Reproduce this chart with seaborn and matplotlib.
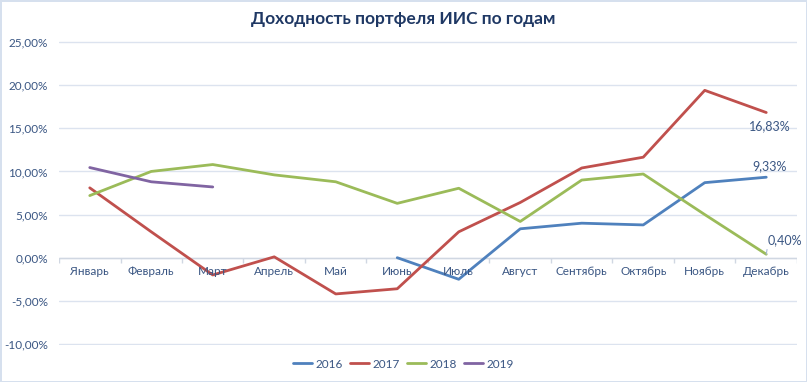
import numpy as np
import pandas as pd
import matplotlib
matplotlib.use('Agg')
import matplotlib.pyplot as plt
import seaborn as sns
from matplotlib.ticker import FuncFormatter

# Данные (доходность, %)
months = ['Январь', 'Февраль', 'Март', 'Апрель', 'Май', 'Июнь', 'Июль',
          'Август', 'Сентябрь', 'Октябрь', 'Ноябрь', 'Декабрь']
years = ['2016', '2017', '2018', '2019']
r2016 = [None, None, None, None, None, 0.0, -2.5, 3.35, 4.0, 3.8, 8.7, 9.33]
r2017 = [8.1, 3.0, -2.0, 0.1, -4.2, -3.6, 3.0, 6.4, 10.4, 11.65, 19.4, 16.83]
r2018 = [7.2, 10.0, 10.8, 9.6, 8.8, 6.3, 8.05, 4.2, 9.0, 9.7, 5.0, 0.40]
r2019 = [10.45, 8.8, 8.2, None, None, None, None, None, None, None, None, None]
colors = ['#4F81BD', '#C0504D', '#9BBB59', '#8064A2']

rows = []
for y, vals in zip(years, [r2016, r2017, r2018, r2019]):
    for i, v in enumerate(vals):
        if v is not None:
            rows.append({'month': i, 'year': y, 'value': v / 100})
df = pd.DataFrame(rows)

sns.set_style('white')
plt.rcParams['font.family'] = ['Lato', 'DejaVu Sans']
txt = '#3A5683'

fig = plt.figure(figsize=(8.07, 3.82), dpi=100)
fig.patch.set_edgecolor('#D6E0EE')
fig.patch.set_linewidth(2)
ax = fig.add_axes([59 / 807, 1 - 345 / 382, 738 / 807, 304 / 382])

sns.lineplot(data=df, x='month', y='value', hue='year', palette=colors,
             linewidth=2, sort=False, ax=ax, legend=True)

ax.set_xlim(-0.5, 11.5)
ax.set_ylim(-0.1012, 0.2512)
ax.set_yticks(np.arange(-0.10, 0.2501, 0.05))
ax.yaxis.set_major_formatter(FuncFormatter(lambda v, p: f'{v * 100:.2f}%'.replace('.', ',')))
ax.tick_params(axis='y', length=0, labelsize=8.5, labelcolor=txt, pad=8)
ax.set_xticks([])
ax.set_xlabel('')
ax.set_ylabel('')
for s in ax.spines.values():
    s.set_visible(False)
ax.grid(axis='y', color='#DCE3EF', linewidth=1)
ax.set_axisbelow(True)

# ось категорий на нуле
ax.axhline(0, color='#D0D7E2', linewidth=1, zorder=1)
ax.vlines(np.arange(-0.5, 12), -0.006, 0, color='#D0D7E2', linewidth=1, zorder=1)
for i, m in enumerate(months):
    ax.text(i, -0.0165, m, ha='center', va='center', fontsize=8.5, color=txt)

# подписи данных
ax.annotate('16,83%', (11, r2017[11] / 100), xytext=(4, -14), textcoords='offset pixels',
            ha='center', va='center', fontsize=9, color=txt)
ax.annotate('9,33%', (11, r2016[11] / 100), xytext=(3, 11), textcoords='offset pixels',
            ha='center', va='center', fontsize=9, color=txt)
ax.annotate('0,40%', (11, r2018[11] / 100), xytext=(19, 14), textcoords='offset pixels',
            ha='center', va='center', fontsize=9, color=txt,
            arrowprops=dict(arrowstyle='-', color='#A6B8D6', lw=0.8, shrinkA=0, shrinkB=0,
                            relpos=(0, 0.2)))

handles, labels = ax.get_legend_handles_labels()
ax.get_legend().remove()
fig.legend(handles, labels, loc='center', bbox_to_anchor=(0.5, 1 - 364 / 382), ncol=4,
           frameon=False, fontsize=8.5, handlelength=1.6, handletextpad=0.3,
           columnspacing=0.6, labelcolor=txt)

fig.text(0.5, 1 - 19 / 382, 'Доходность портфеля ИИС по годам', ha='center', va='center',
         fontsize=12.5, fontweight='bold', color='#1F3864')

fig.savefig('out.png', dpi=100, edgecolor=fig.get_edgecolor())
